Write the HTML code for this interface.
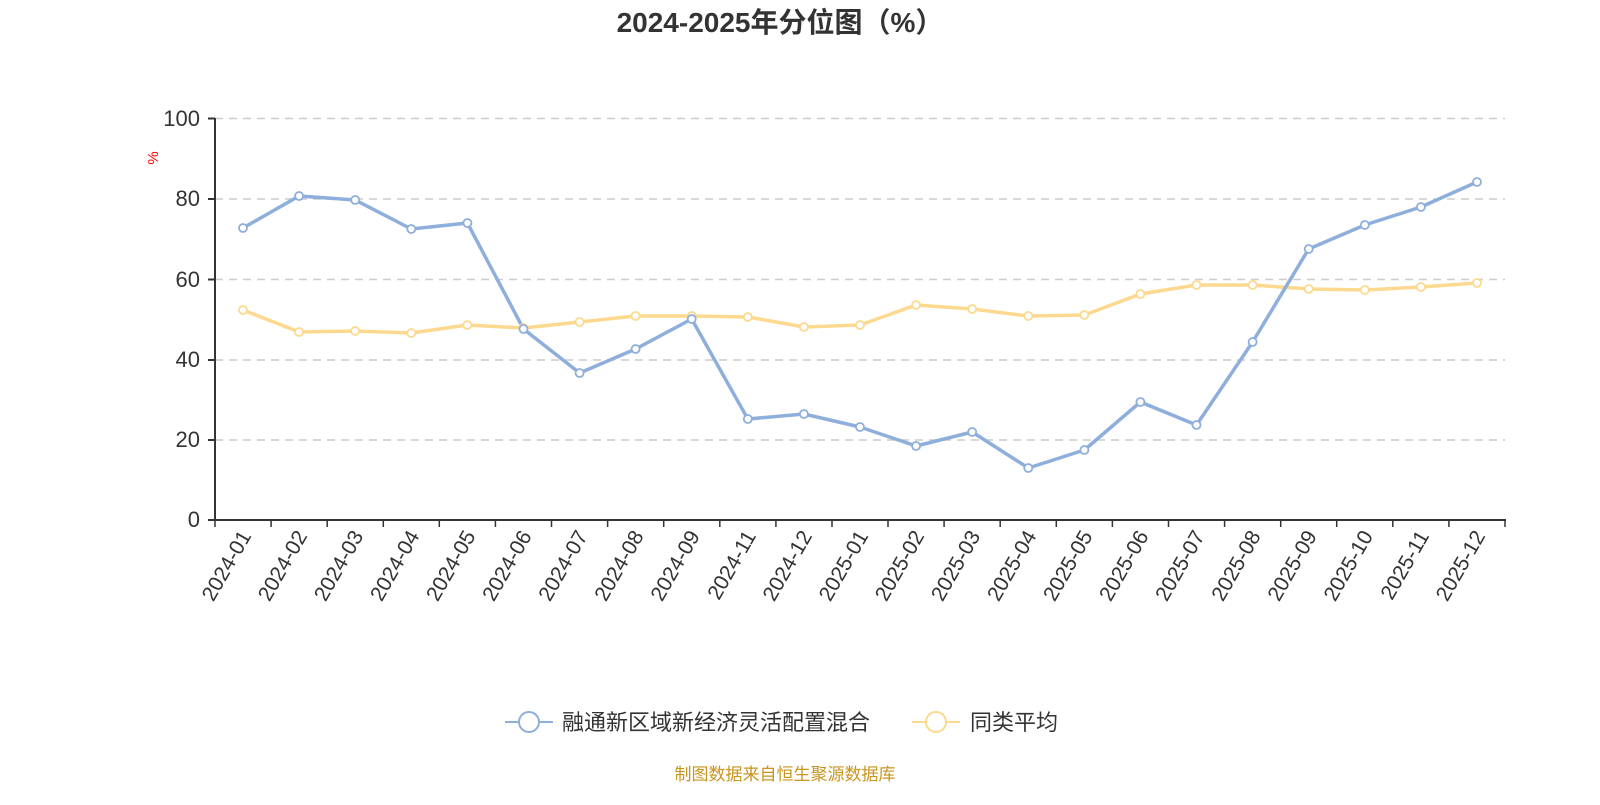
<!DOCTYPE html>
<html><head><meta charset="utf-8"><style>
body{margin:0;background:#fff;}
text{font-family:"Liberation Sans","Noto Sans CJK SC",sans-serif;}
</style></head><body>
<svg width="1600" height="800" xmlns="http://www.w3.org/2000/svg">
<text x="780" y="32" text-anchor="middle" font-size="28" font-weight="bold" fill="#333">2024-2025年分位图（%）</text>
<g stroke="#ccc" stroke-width="1.5" stroke-dasharray="8,6">
<line x1="215" y1="118.5" x2="1505" y2="118.5"/><line x1="215" y1="199" x2="1505" y2="199"/><line x1="215" y1="279.5" x2="1505" y2="279.5"/><line x1="215" y1="360" x2="1505" y2="360"/><line x1="215" y1="440" x2="1505" y2="440"/>
</g>
<g stroke="#333" stroke-width="2">
<line x1="215" y1="118" x2="215" y2="521"/><line x1="214" y1="520" x2="1506" y2="520"/>
<line x1="208" y1="118.5" x2="215" y2="118.5"/><line x1="208" y1="199" x2="215" y2="199"/><line x1="208" y1="279.5" x2="215" y2="279.5"/><line x1="208" y1="360" x2="215" y2="360"/><line x1="208" y1="440" x2="215" y2="440"/><line x1="208" y1="520" x2="215" y2="520"/>
</g>
<g stroke="#333" stroke-width="1.5">
<line x1="215" y1="520" x2="215" y2="527"/><line x1="271.1" y1="520" x2="271.1" y2="527"/><line x1="327.2" y1="520" x2="327.2" y2="527"/><line x1="383.3" y1="520" x2="383.3" y2="527"/><line x1="439.3" y1="520" x2="439.3" y2="527"/><line x1="495.4" y1="520" x2="495.4" y2="527"/><line x1="551.5" y1="520" x2="551.5" y2="527"/><line x1="607.6" y1="520" x2="607.6" y2="527"/><line x1="663.7" y1="520" x2="663.7" y2="527"/><line x1="719.8" y1="520" x2="719.8" y2="527"/><line x1="775.9" y1="520" x2="775.9" y2="527"/><line x1="832" y1="520" x2="832" y2="527"/><line x1="888" y1="520" x2="888" y2="527"/><line x1="944.1" y1="520" x2="944.1" y2="527"/><line x1="1000.2" y1="520" x2="1000.2" y2="527"/><line x1="1056.3" y1="520" x2="1056.3" y2="527"/><line x1="1112.4" y1="520" x2="1112.4" y2="527"/><line x1="1168.5" y1="520" x2="1168.5" y2="527"/><line x1="1224.6" y1="520" x2="1224.6" y2="527"/><line x1="1280.7" y1="520" x2="1280.7" y2="527"/><line x1="1336.7" y1="520" x2="1336.7" y2="527"/><line x1="1392.8" y1="520" x2="1392.8" y2="527"/><line x1="1448.9" y1="520" x2="1448.9" y2="527"/><line x1="1505" y1="520" x2="1505" y2="527"/>
</g>
<g font-size="22" fill="#333" text-anchor="end">
<text x="200" y="126">100</text><text x="200" y="206">80</text><text x="200" y="287">60</text><text x="200" y="367">40</text><text x="200" y="447">20</text><text x="200" y="527">0</text>
</g>
<text x="0" y="0" font-size="15" fill="red" transform="translate(158,158) rotate(-90)" text-anchor="middle">%</text>
<g font-size="21" fill="#333" text-anchor="end" dominant-baseline="middle">
<text transform="translate(247,533) rotate(-60)">2024-01</text>
<text transform="translate(303.1,533) rotate(-60)">2024-02</text>
<text transform="translate(359.2,533) rotate(-60)">2024-03</text>
<text transform="translate(415.3,533) rotate(-60)">2024-04</text>
<text transform="translate(471.4,533) rotate(-60)">2024-05</text>
<text transform="translate(527.5,533) rotate(-60)">2024-06</text>
<text transform="translate(583.6,533) rotate(-60)">2024-07</text>
<text transform="translate(639.6,533) rotate(-60)">2024-08</text>
<text transform="translate(695.7,533) rotate(-60)">2024-09</text>
<text transform="translate(751.8,533) rotate(-60)">2024-11</text>
<text transform="translate(807.9,533) rotate(-60)">2024-12</text>
<text transform="translate(864,533) rotate(-60)">2025-01</text>
<text transform="translate(920.1,533) rotate(-60)">2025-02</text>
<text transform="translate(976.2,533) rotate(-60)">2025-03</text>
<text transform="translate(1032.3,533) rotate(-60)">2025-04</text>
<text transform="translate(1088.4,533) rotate(-60)">2025-05</text>
<text transform="translate(1144.4,533) rotate(-60)">2025-06</text>
<text transform="translate(1200.5,533) rotate(-60)">2025-07</text>
<text transform="translate(1256.6,533) rotate(-60)">2025-08</text>
<text transform="translate(1312.7,533) rotate(-60)">2025-09</text>
<text transform="translate(1368.8,533) rotate(-60)">2025-10</text>
<text transform="translate(1424.9,533) rotate(-60)">2025-11</text>
<text transform="translate(1481,533) rotate(-60)">2025-12</text>
</g>
<g fill="none" stroke-width="3.5" stroke-linejoin="round">
<polyline stroke="#fcd98e" points="243,310 299.1,332 355.2,331 411.3,333 467.4,325 523.5,328 579.6,322 635.6,316 691.7,316 747.8,317 803.9,327 860,325 916.1,305 972.2,309 1028.3,316 1084.4,315 1140.4,294 1196.5,285 1252.6,285 1308.7,289 1364.8,290 1420.9,287 1477,283"/>
<polyline stroke="#8eaedc" points="243,228 299.1,196 355.2,200 411.3,229 467.4,223 523.5,329 579.6,373 635.6,349 691.7,319 747.8,419 803.9,414 860,427 916.1,446 972.2,432 1028.3,468 1084.4,450 1140.4,402 1196.5,425 1252.6,342 1308.7,249 1364.8,225 1420.9,207 1477,182"/>
</g>
<g fill="#fff" stroke="#fcd98e" stroke-width="1.8">
<circle cx="243" cy="310" r="4"/><circle cx="299.1" cy="332" r="4"/><circle cx="355.2" cy="331" r="4"/><circle cx="411.3" cy="333" r="4"/><circle cx="467.4" cy="325" r="4"/><circle cx="523.5" cy="328" r="4"/><circle cx="579.6" cy="322" r="4"/><circle cx="635.6" cy="316" r="4"/><circle cx="691.7" cy="316" r="4"/><circle cx="747.8" cy="317" r="4"/><circle cx="803.9" cy="327" r="4"/><circle cx="860" cy="325" r="4"/><circle cx="916.1" cy="305" r="4"/><circle cx="972.2" cy="309" r="4"/><circle cx="1028.3" cy="316" r="4"/><circle cx="1084.4" cy="315" r="4"/><circle cx="1140.4" cy="294" r="4"/><circle cx="1196.5" cy="285" r="4"/><circle cx="1252.6" cy="285" r="4"/><circle cx="1308.7" cy="289" r="4"/><circle cx="1364.8" cy="290" r="4"/><circle cx="1420.9" cy="287" r="4"/><circle cx="1477" cy="283" r="4"/>
</g>
<g fill="#fff" stroke="#8eaedc" stroke-width="1.8">
<circle cx="243" cy="228" r="4"/><circle cx="299.1" cy="196" r="4"/><circle cx="355.2" cy="200" r="4"/><circle cx="411.3" cy="229" r="4"/><circle cx="467.4" cy="223" r="4"/><circle cx="523.5" cy="329" r="4"/><circle cx="579.6" cy="373" r="4"/><circle cx="635.6" cy="349" r="4"/><circle cx="691.7" cy="319" r="4"/><circle cx="747.8" cy="419" r="4"/><circle cx="803.9" cy="414" r="4"/><circle cx="860" cy="427" r="4"/><circle cx="916.1" cy="446" r="4"/><circle cx="972.2" cy="432" r="4"/><circle cx="1028.3" cy="468" r="4"/><circle cx="1084.4" cy="450" r="4"/><circle cx="1140.4" cy="402" r="4"/><circle cx="1196.5" cy="425" r="4"/><circle cx="1252.6" cy="342" r="4"/><circle cx="1308.7" cy="249" r="4"/><circle cx="1364.8" cy="225" r="4"/><circle cx="1420.9" cy="207" r="4"/><circle cx="1477" cy="182" r="4"/>
</g>
<line x1="505" y1="722" x2="553" y2="722" stroke="#8eaedc" stroke-width="2"/>
<circle cx="529" cy="722" r="10" fill="#fff" stroke="#8eaedc" stroke-width="2"/>
<text x="562" y="730" font-size="22" fill="#333">融通新区域新经济灵活配置混合</text>
<line x1="912" y1="722" x2="960" y2="722" stroke="#fcd98e" stroke-width="2"/>
<circle cx="936" cy="722" r="10" fill="#fff" stroke="#fcd98e" stroke-width="2"/>
<text x="970" y="730" font-size="22" fill="#333">同类平均</text>
<text x="785" y="780" font-size="17" fill="#c8951e" text-anchor="middle">制图数据来自恒生聚源数据库</text>
</svg>
</body></html>
